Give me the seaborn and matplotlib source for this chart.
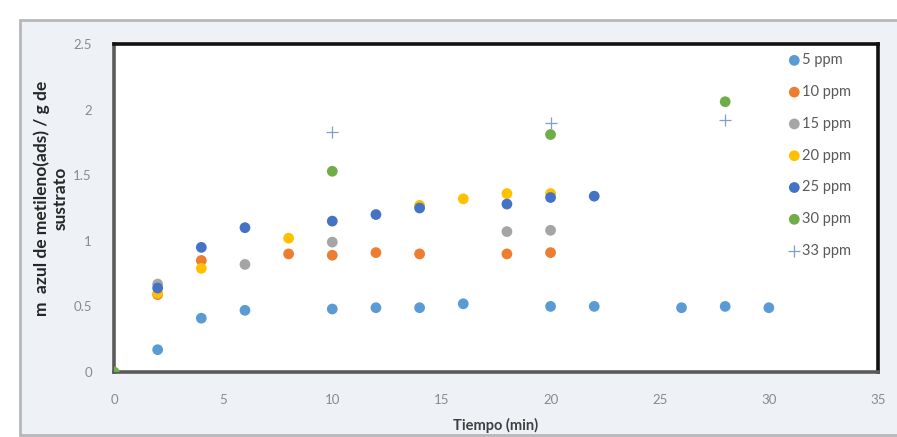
import pandas as pd
import matplotlib.pyplot as plt
import seaborn as sns
from matplotlib.patches import Rectangle
from matplotlib.ticker import MultipleLocator

# Data: tiempo (min) vs mg adsorbido / g sustrato
t_5 = [2, 4, 6, 10, 12, 14, 16, 20, 22, 26, 28, 30]
q_5 = [0.17, 0.41, 0.47, 0.48, 0.49, 0.49, 0.52, 0.50, 0.50, 0.49, 0.50, 0.49]

t_10 = [2, 4, 8, 10, 12, 14, 18, 20]
q_10 = [0.59, 0.85, 0.90, 0.89, 0.91, 0.90, 0.90, 0.91]

t_15 = [2, 6, 10, 18, 20]
q_15 = [0.67, 0.82, 0.99, 1.07, 1.08]

t_20 = [2, 4, 8, 14, 16, 18, 20]
q_20 = [0.60, 0.79, 1.02, 1.27, 1.32, 1.36, 1.36]

t_25 = [2, 4, 6, 10, 12, 14, 18, 20, 22]
q_25 = [0.64, 0.95, 1.10, 1.15, 1.20, 1.25, 1.28, 1.33, 1.34]

t_30 = [0, 10, 20, 28]
q_30 = [0.0, 1.53, 1.81, 2.06]

t_33 = [10, 20, 28]
q_33 = [1.83, 1.90, 1.92]

series = ['5 ppm', '10 ppm', '15 ppm', '20 ppm', '25 ppm', '30 ppm', '33 ppm']
tiempos = [t_5, t_10, t_15, t_20, t_25, t_30, t_33]
valores = [q_5, q_10, q_15, q_20, q_25, q_30, q_33]
colores = ['#5B9BD5', '#ED7D31', '#A5A5A5', '#FFC000', '#4472C4', '#70AD47', '#7F9FC4']

sns.set_style('white')
plt.rcParams['font.family'] = ['Lato', 'DejaVu Sans']

fig = plt.figure(figsize=(8.97, 4.37), dpi=100, facecolor='white')
# outer chart frame with pale background
fig.patches.append(Rectangle((20 / 897, 2 / 437), 1.0, 415 / 437, transform=fig.transFigure,
                             facecolor='#eef2f6', edgecolor='#b5b8bb', linewidth=2, zorder=-1))

ax = fig.add_axes([114 / 897, 65 / 437, 764 / 897, 328 / 437])
ax.set_facecolor('white')

for nombre, t, q, c in zip(series, tiempos, valores, colores):
    df = pd.DataFrame({'Tiempo': t, 'q': q})
    if nombre == '33 ppm':
        sns.scatterplot(data=df, x='Tiempo', y='q', ax=ax, marker='+', color=c,
                        s=70, linewidth=0.9, label=nombre, zorder=3)
    else:
        sns.scatterplot(data=df, x='Tiempo', y='q', ax=ax, marker='o', color=c,
                        s=60, edgecolor='none', label=nombre, zorder=3)

ax.set_xlim(0, 35)
ax.set_ylim(0, 2.5)
ax.xaxis.set_major_locator(MultipleLocator(5))
ax.xaxis.set_minor_locator(MultipleLocator(1))
ax.yaxis.set_major_locator(MultipleLocator(0.5))
ax.yaxis.set_minor_locator(MultipleLocator(0.1))
ax.set_yticks([0, 0.5, 1, 1.5, 2, 2.5])
ax.set_yticklabels(['0', '0.5', '1', '1.5', '2', '2.5'])
ax.tick_params(axis='both', which='both', direction='in', color='#9a9a9a',
               labelcolor='#8a8a8a', labelsize=9.5)
ax.tick_params(axis='both', which='major', length=4, width=1)
ax.tick_params(axis='both', which='minor', length=3, width=0.8)
ax.tick_params(axis='x', pad=16)
ax.tick_params(axis='y', pad=16)

for side in ['top', 'right']:
    ax.spines[side].set_color('#111111')
    ax.spines[side].set_linewidth(2.6)
for side in ['left', 'bottom']:
    ax.spines[side].set_color('#5a5a5a')
    ax.spines[side].set_linewidth(2.6)

ax.set_xlabel('')
ax.set_ylabel('')
fig.text(496 / 897, 1 - 425 / 437, 'Tiempo (min)', ha='center', va='center',
         fontsize=10.5, fontweight='bold', color='#404040')
fig.text(51 / 897, 1 - 198 / 437, 'm  azul de metileno(ads) / g de\nsustrato',
         ha='center', va='center', rotation=90, fontsize=12.5, fontweight='bold',
         color='#262626', multialignment='center', linespacing=1.25)

leg = ax.legend(loc='upper left', bbox_to_anchor=(673 / 764, 0.972), frameon=False,
                fontsize=10.5, labelspacing=1.22, handletextpad=0.05,
                handlelength=1.0, borderaxespad=0.0, borderpad=0.0)
for txt in leg.get_texts():
    txt.set_color('#595959')

fig.savefig('out.png', dpi=100, facecolor=fig.get_facecolor())
